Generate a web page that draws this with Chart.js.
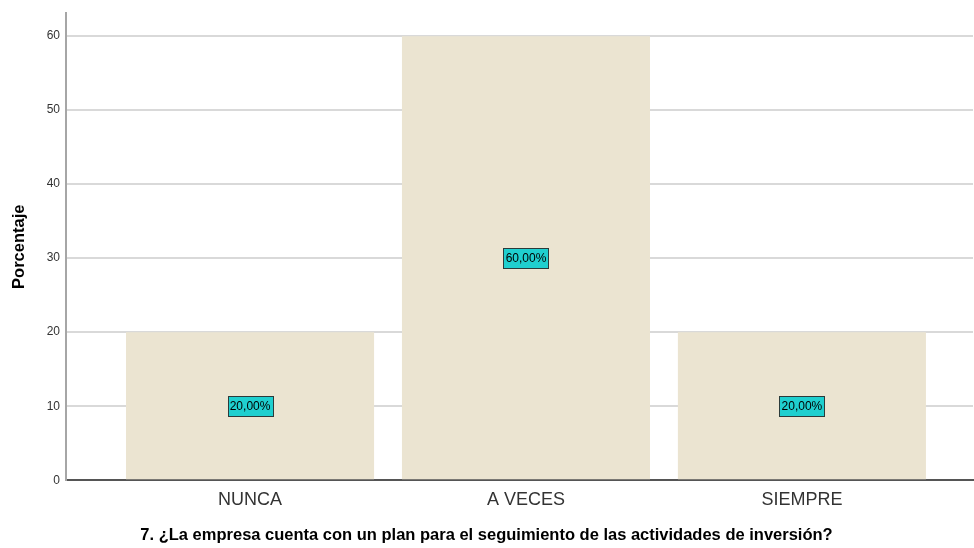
<!DOCTYPE html>
<html>
<head>
<meta charset="utf-8">
<script src="https://cdn.jsdelivr.net/npm/chart.js@4.4.1/dist/chart.umd.min.js"></script>
<style>
  html, body { margin: 0; padding: 0; background: #fff; }
  #wrap { width: 974px; height: 548px; position: relative; }
</style>
</head>
<body>
<div id="wrap"><canvas id="chart"></canvas></div>
<script>
const categories = ["NUNCA", "A VECES", "SIEMPRE"]
const percentages = [20, 60, 20]
const valueLabels = ["20,00%", "60,00%", "20,00%"]
const yTicks = [0, 10, 20, 30, 40, 50, 60]
const FONT = "'Liberation Sans', Arial, sans-serif"

// cyan boxes in the middle of every bar
const boxLabels = {
  id: "boxLabels",
  afterDatasetsDraw(chart) {
    const ctx = chart.ctx
    const meta = chart.getDatasetMeta(0)
    ctx.save()
    ctx.font = "12px " + FONT
    ctx.textAlign = "center"
    ctx.textBaseline = "middle"
    meta.data.forEach((bar, i) => {
      const text = valueLabels[i]
      const cx = bar.x
      const cy = (bar.y + bar.base) / 2
      const w = Math.round(ctx.measureText(text).width + 4)
      const h = 20
      const x0 = Math.round(cx - w / 2)
      const y0 = Math.round(cy - h / 2)
      ctx.fillStyle = "#1fcfcf"
      ctx.fillRect(x0, y0, w, h)
      ctx.strokeStyle = "#2b3b3b"
      ctx.lineWidth = 1
      ctx.strokeRect(x0 + 0.5, y0 + 0.5, w, h)
      ctx.fillStyle = "#000"
      ctx.fillText(text, cx, cy + 1)
    })
    ctx.restore()
  }
}

new Chart(document.getElementById("chart"), {
  type: "bar",
  data: {
    datasets: [{
      data: percentages.map((v, i) => ({ x: i, y: v })),
      backgroundColor: "#ebe4d1",
      borderWidth: 0,
      categoryPercentage: 1,
      barPercentage: 0.899
    }]
  },
  options: {
    responsive: true,
    maintainAspectRatio: false,
    animation: false,
    layout: { padding: { top: 11, right: 1, left: 0, bottom: 0 } },
    plugins: {
      legend: { display: false },
      tooltip: { enabled: false },
      title: {
        display: true,
        position: "bottom",
        text: "7. ¿La empresa cuenta con un plan para el seguimiento de las actividades de inversión?",
        color: "#000",
        font: { size: 16.5, weight: "bold", family: FONT },
        padding: { top: 5, bottom: 3 }
      }
    },
    scales: {
      x: {
        type: "linear",
        offset: false,
        min: -0.667,
        max: 2.62,
        afterBuildTicks(scale) {
          scale.ticks = categories.map((c, i) => ({ value: i }))
        },
        afterFit(scale) { scale.height = 40 },
        grid: { display: false, drawTicks: false, offset: false },
        border: { display: true, color: "#555", width: 2 },
        ticks: {
          padding: 9,
          color: "#333",
          font: { size: 18, family: FONT },
          callback: (v) => categories[v]
        }
      },
      y: {
        min: 0,
        max: 63.1,
        afterBuildTicks(scale) {
          scale.ticks = yTicks.map(v => ({ value: v }))
        },
        afterFit(scale) { scale.width = 66 },
        grid: { color: "#d9d9d9", lineWidth: 2, drawTicks: false },
        border: { display: true, color: "#a6a6a6", width: 2 },
        ticks: {
          padding: 6,
          color: "#333",
          font: { size: 12, family: FONT }
        },
        title: {
          display: true,
          text: "Porcentaje",
          color: "#000",
          font: { size: 16.5, weight: "bold", family: FONT },
          padding: { top: 10, bottom: 4 }
        }
      }
    }
  },
  plugins: [boxLabels]
})
</script>
</body>
</html>
